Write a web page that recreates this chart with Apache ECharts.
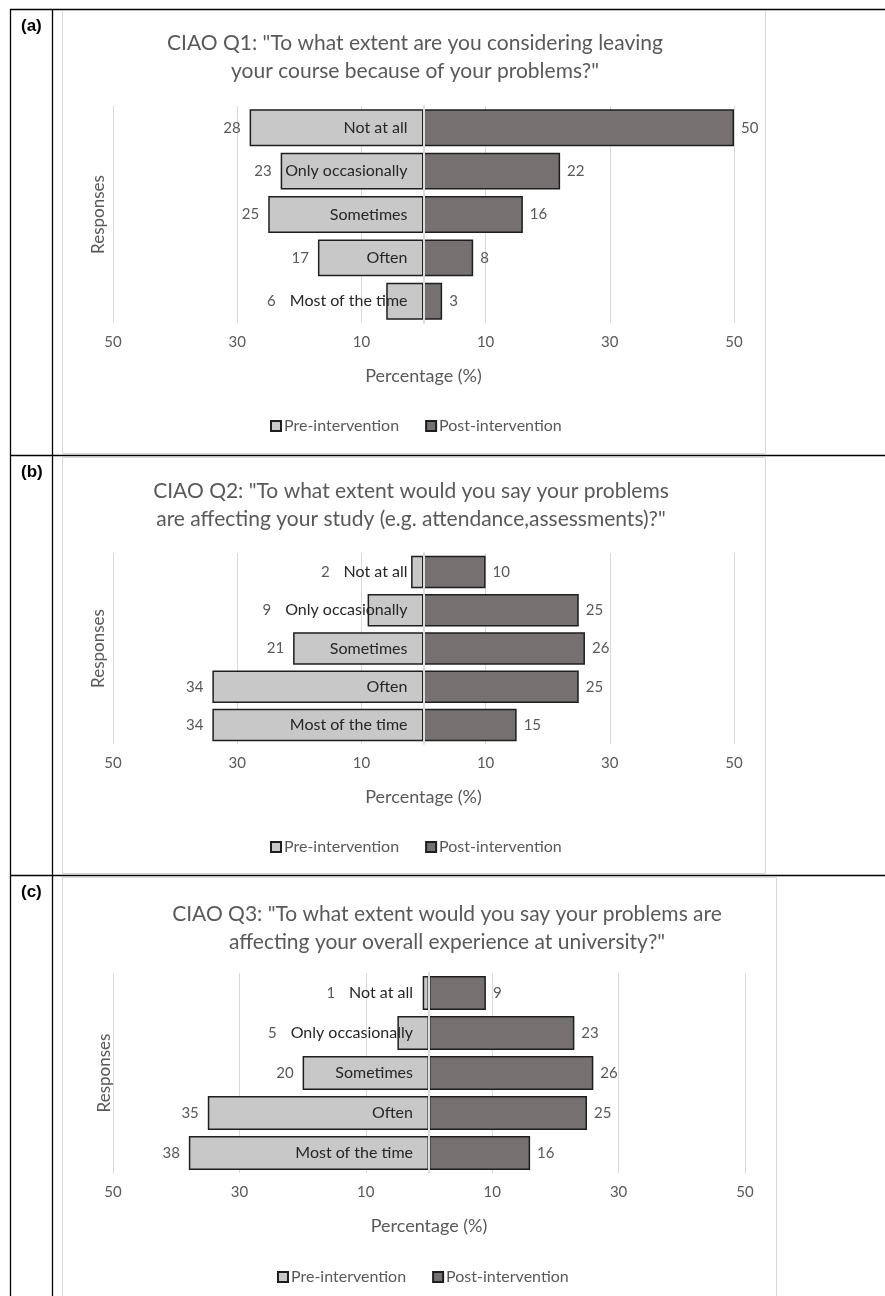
<!DOCTYPE html>
<html>
<head>
<meta charset="utf-8">
<script src="https://cdn.jsdelivr.net/npm/echarts@6/dist/echarts.min.js"></script>
<style>
html,body{margin:0;padding:0;background:#fff;}
#chart{width:885px;height:1296px;}
</style>
</head>
<body>
<div id="chart"></div>
<script>
// ---- data ----
const categories = ['Not at all', 'Only occasionally', 'Sometimes', 'Often', 'Most of the time'];
const preA  = [28, 23, 25, 17, 6];
const postA = [50, 22, 16, 8, 3];
const preB  = [2, 9, 21, 34, 34];
const postB = [10, 25, 26, 25, 15];
const preC  = [1, 5, 20, 35, 38];
const postC = [9, 23, 26, 25, 16];
const panelLabels = ['(a)', '(b)', '(c)'];
const titles = [
  'CIAO Q1: "To what extent are you considering leaving\nyour course because of your problems?"',
  'CIAO Q2: "To what extent would you say your problems\nare affecting your study (e.g. attendance,assessments)?"',
  'CIAO Q3: "To what extent would you say your problems are\naffecting your overall experience at university?"'
];
const seriesNames = ['Pre-intervention', 'Post-intervention'];
const xAxisName = 'Percentage (%)';
const yAxisName = 'Responses';

// ---- layout / style ----
const FONT = 'Lato';
const GRAY = '#595959';
const CAT_SIZE = 16;
const CAT_MARGIN = 16;
const panels = [
  {pre: preA, post: postA, grid: {left: 113, top: 106, width: 621, height: 217},
   title: {x: 415, y: 29}, legend: {left: 270, top: 418}, box: [62, 9, 703, 444]},
  {pre: preB, post: postB, grid: {left: 113, top: 553, width: 621, height: 191},
   title: {x: 411, y: 477}, legend: {left: 270, top: 839}, box: [62, 457, 703, 416]},
  {pre: preC, post: postC, grid: {left: 113, top: 973, width: 632, height: 200},
   title: {x: 447, y: 900}, legend: {left: 277, top: 1269}, box: [62, 877, 714, 430]}
];

const ctx = document.createElement('canvas').getContext('2d');
function textW(s, font) { ctx.font = font; return ctx.measureText(s).width; }

function makePreLayout(p) {
  const zeroX = p.rect.x + p.rect.width;
  const catLeft = zeroX - CAT_MARGIN - textW(categories[p.dataIndex], CAT_SIZE + 'px ' + FONT);
  const y = p.labelRect.y + p.labelRect.height / 2;
  if (p.rect.x > catLeft - 2) {
    return {x: catLeft - 14, y: y, align: 'right', verticalAlign: 'middle'};
  }
  return {x: p.rect.x - 9, y: y, align: 'right', verticalAlign: 'middle'};
}

const chart = echarts.init(document.getElementById('chart'), null, {renderer: 'canvas'});

const option = {
  animation: false,
  backgroundColor: '#fff',
  title: panels.map((pn, i) => ({
    text: titles[i], left: pn.title.x, top: pn.title.y, textAlign: 'center', padding: 0,
    textStyle: {fontFamily: FONT, fontSize: 21, fontWeight: 'normal', color: GRAY, lineHeight: 28}
  })),
  legend: panels.map((pn, i) => ({
    data: seriesNames, left: pn.legend.left, top: pn.legend.top, padding: 0,
    itemWidth: 10, itemHeight: 10, itemGap: 26, icon: 'rect',
    textStyle: {fontFamily: FONT, fontSize: 16, color: GRAY, padding: [0, 0, 0, -2]}
  })),
  grid: panels.map(pn => Object.assign({containLabel: false, outerBoundsMode: 'none'}, pn.grid)),
  xAxis: panels.map((pn, i) => ({
    type: 'value', gridIndex: i, min: -50, max: 50, interval: 20,
    axisLine: {show: false}, axisTick: {show: false},
    splitLine: {show: true, lineStyle: {color: '#d9d9d9', width: 1}},
    axisLabel: {formatter: v => Math.abs(v), color: GRAY, fontSize: 15, fontFamily: FONT, margin: 12},
    name: xAxisName, nameLocation: 'middle', nameGap: 44,
    nameTextStyle: {color: GRAY, fontSize: 18, fontFamily: FONT}
  })),
  yAxis: panels.map((pn, i) => ({
    type: 'category', gridIndex: i, data: categories, inverse: true, z: 5,
    offset: -pn.grid.width / 2,
    axisLine: {show: true, onZero: false, lineStyle: {color: '#dcdcdc', width: 2}},
    axisTick: {show: false}, splitLine: {show: false},
    axisLabel: {color: '#262626', fontSize: CAT_SIZE, fontFamily: FONT, margin: CAT_MARGIN},
    name: yAxisName, nameLocation: 'middle', nameRotate: 90, nameGap: 316,
    nameTextStyle: {color: GRAY, fontSize: 17, fontFamily: FONT}
  })),
  series: panels.flatMap((pn, i) => [
    {
      type: 'bar', name: seriesNames[0], xAxisIndex: i, yAxisIndex: i,
      data: pn.pre.map(v => -v), barGap: '-100%', barCategoryGap: '15%',
      itemStyle: {color: '#c8c8c8', borderColor: '#1e1e1e', borderWidth: 1.5},
      label: {show: true, position: 'left', distance: 9, formatter: p => Math.abs(p.value),
              color: GRAY, fontSize: 15, fontFamily: FONT},
      labelLayout: makePreLayout
    },
    {
      type: 'bar', name: seriesNames[1], xAxisIndex: i, yAxisIndex: i,
      data: pn.post, barGap: '-100%', barCategoryGap: '15%',
      itemStyle: {color: '#757171', borderColor: '#1e1e1e', borderWidth: 1.5},
      label: {show: true, position: 'right', distance: 7, formatter: p => Math.abs(p.value),
              color: GRAY, fontSize: 15, fontFamily: FONT}
    }
  ]),
  graphic: [].concat(
    panels.map(pn => ({
      type: 'rect', silent: true, z: -1,
      shape: {x: pn.box[0] + 0.5, y: pn.box[1] + 0.5, width: pn.box[2], height: pn.box[3]},
      style: {fill: null, stroke: '#d9d9d9', lineWidth: 1}
    })),
    [
      {type: 'line', silent: true, shape: {x1: 10.5, y1: 9, x2: 10.5, y2: 1296}, style: {stroke: '#000', lineWidth: 1.3}},
      {type: 'line', silent: true, shape: {x1: 52.5, y1: 9, x2: 52.5, y2: 1296}, style: {stroke: '#000', lineWidth: 1.3}},
      {type: 'line', silent: true, shape: {x1: 10, y1: 9.5, x2: 885, y2: 9.5}, style: {stroke: '#000', lineWidth: 1.3}},
      {type: 'line', silent: true, shape: {x1: 10, y1: 455.5, x2: 885, y2: 455.5}, style: {stroke: '#000', lineWidth: 1.3}},
      {type: 'line', silent: true, shape: {x1: 10, y1: 875.5, x2: 885, y2: 875.5}, style: {stroke: '#000', lineWidth: 1.3}}
    ],
    panelLabels.map((t, i) => ({
      type: 'text', silent: true, left: 21, top: [18, 464, 884][i],
      style: {text: t, font: 'bold 17px "Liberation Sans", Arial, sans-serif', fill: '#000'}
    }))
  )
};
chart.setOption(option);
</script>
</body>
</html>
